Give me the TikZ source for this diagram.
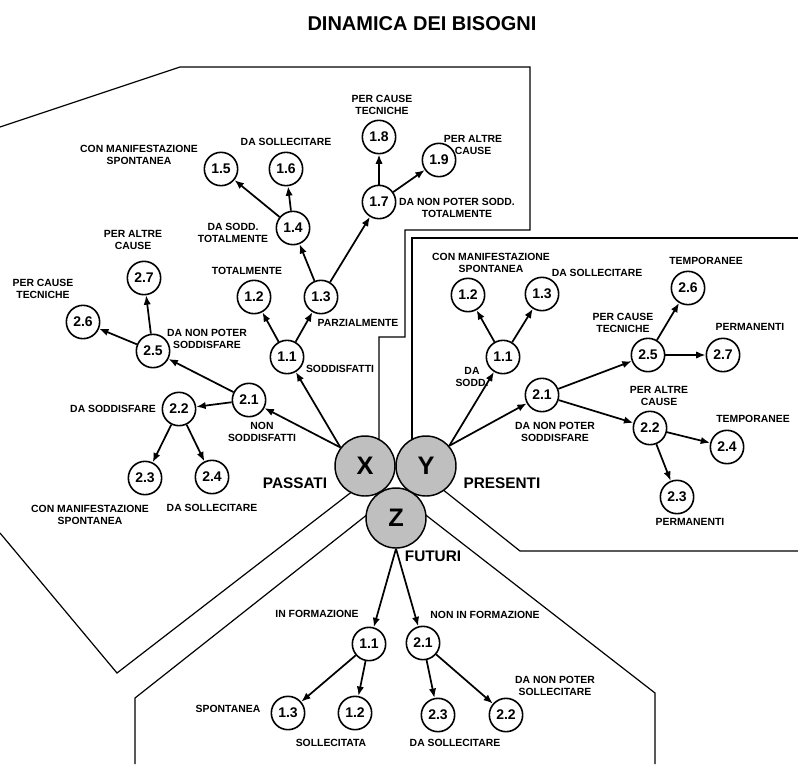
\documentclass[tikz,border=0pt]{standalone}
\usepackage{fontspec}
\setmainfont{Liberation Sans}
\usetikzlibrary{arrows.meta}

\begin{document}
\begin{tikzpicture}[x=0.75pt, y=-0.75pt,
  num/.style={draw, circle, line width=1.2pt, fill=white, minimum size=25pt, inner sep=0pt,
    font=\bfseries\fontsize{10.5}{10.5}\selectfont},
  big/.style={draw, circle, line width=1.1pt, fill=black!25, minimum size=45pt, inner sep=0pt,
    font=\bfseries\fontsize{19}{19}\selectfont},
  lab/.style={align=center, inner sep=0pt, font=\bfseries\fontsize{7.8}{9}\selectfont},
  tag/.style={inner sep=0pt, font=\bfseries\fontsize{11.5}{11.5}\selectfont},
  edge/.style={-{Latex[length=7pt,width=5.5pt]}, line width=1.3pt},
  wall/.style={line width=0.9pt}]
  \useasboundingbox (0,0) rectangle (798,764);

  \node[inner sep=0pt, font=\bfseries\fontsize{15}{15}\selectfont] (title) at (422,24) {DINAMICA DEI BISOGNI};

  % the three zones
  \draw[wall] (0,127) -- (180,67) -- (530,67) -- (530,230) -- (405,230) -- (405,337)
              -- (379,337) -- (379,455);
  \draw[wall] (358,487) -- (117,673) -- (0,533);
  \draw[wall] (798,238) -- (412,238) -- (412,455);
  \draw[wall] (432,481) -- (520,551) -- (798,551);
  \draw[wall] (373,510) -- (135,698) -- (135,764);
  \draw[wall] (418,509) -- (655,693) -- (655,764);

  \node[big] (Z) at (396,518) {Z};
  \node[big] (X) at (365,466) {X};
  \node[big] (Y) at (426,466) {Y};
  \node[tag] (passati) at (295,483) {PASSATI};
  \node[tag] (presenti) at (502,483) {PRESENTI};
  \node[tag] (futuri) at (433,556) {FUTURI};

  % passati
  \node[num] (pa11) at (287,357) {1.1};
  \node[num] (pa12) at (254,297) {1.2};
  \node[num] (pa13) at (321,297) {1.3};
  \node[num] (pa14) at (293,228) {1.4};
  \node[num] (pa15) at (221,169) {1.5};
  \node[num] (pa16) at (286,169) {1.6};
  \node[num] (pa17) at (379,202) {1.7};
  \node[num] (pa18) at (379,137) {1.8};
  \node[num] (pa19) at (439,160) {1.9};
  \node[num] (pa21) at (249,400) {2.1};
  \node[num] (pa22) at (179,409) {2.2};
  \node[num] (pa23) at (145,478) {2.3};
  \node[num] (pa24) at (212,477) {2.4};
  \node[num] (pa25) at (153,351) {2.5};
  \node[num] (pa26) at (83,322) {2.6};
  \node[num] (pa27) at (144,278) {2.7};

  \node[lab] (lpa15) at (139,155) {CON MANIFESTAZIONE\\SPONTANEA};
  \node[lab] (lpa16) at (286,142) {DA SOLLECITARE};
  \node[lab] (lpa14) at (233,233) {DA SODD.\\TOTALMENTE};
  \node[lab] (lpa12) at (247,271) {TOTALMENTE};
  \node[lab] (lpa27) at (133,240) {PER ALTRE\\CAUSE};
  \node[lab] (lpa26) at (43,289) {PER CAUSE\\TECNICHE};
  \node[lab] (lpa25) at (207,339) {DA NON POTER\\SODDISFARE};
  \node[lab] (lpa13) at (358,323) {PARZIALMENTE};
  \node[lab] (lpa18) at (382,105) {PER CAUSE\\TECNICHE};
  \node[lab] (lpa19) at (473,145) {PER ALTRE\\CAUSE};
  \node[lab] (lpa17) at (457,208) {DA NON POTER SODD.\\TOTALMENTE};
  \node[lab] (lpa11) at (340,369) {SODDISFATTI};
  \node[lab] (lpa22) at (113,409) {DA SODDISFARE};
  \node[lab] (lpa21) at (262,432) {NON\\SODDISFATTI};
  \node[lab] (lpa23) at (90,515) {CON MANIFESTAZIONE\\SPONTANEA};
  \node[lab] (lpa24) at (212,508) {DA SOLLECITARE};

  \foreach \a/\b in {X.143/pa11, X.143/pa21, pa11/pa12, pa11/pa13, pa13/pa14, pa13/pa17,
                     pa14/pa15, pa14/pa16, pa17/pa18, pa17/pa19, pa21/pa25, pa21/pa22,
                     pa25/pa26, pa25/pa27, pa22/pa23, pa22/pa24}
    \draw[edge] (\a) -- (\b);

  % presenti
  \node[num] (pr11) at (503,357) {1.1};
  \node[num] (pr12) at (468,295) {1.2};
  \node[num] (pr13) at (542,294) {1.3};
  \node[num] (pr21) at (542,395) {2.1};
  \node[num] (pr22) at (650,428) {2.2};
  \node[num] (pr23) at (677,497) {2.3};
  \node[num] (pr24) at (727,447) {2.4};
  \node[num] (pr25) at (648,355) {2.5};
  \node[num] (pr26) at (688,288) {2.6};
  \node[num] (pr27) at (723,355) {2.7};

  \node[lab] (lpr12) at (491,263) {CON MANIFESTAZIONE\\SPONTANEA};
  \node[lab] (lpr13) at (597,273) {DA SOLLECITARE};
  \node[lab] (lpr26) at (706,261) {TEMPORANEE};
  \node[lab] (lpr25) at (623,323) {PER CAUSE\\TECNICHE};
  \node[lab] (lpr27) at (750,327) {PERMANENTI};
  \node[lab] (lpr11) at (472,377) {DA\\SODD.};
  \node[lab] (lpr22) at (659,396) {PER ALTRE\\CAUSE};
  \node[lab] (lpr21) at (555,432) {DA NON POTER\\SODDISFARE};
  \node[lab] (lpr24) at (753,419) {TEMPORANEE};
  \node[lab] (lpr23) at (690,522) {PERMANENTI};

  \foreach \a/\b in {Y.41/pr11, Y.41/pr21, pr11/pr12, pr11/pr13, pr21/pr25, pr21/pr22,
                     pr25/pr26, pr25/pr27, pr22/pr24, pr22/pr23}
    \draw[edge] (\a) -- (\b);

  % futuri
  \node[num] (fu11) at (369,644) {1.1};
  \node[num] (fu12) at (355,713) {1.2};
  \node[num] (fu13) at (288,713) {1.3};
  \node[num] (fu21) at (423,643) {2.1};
  \node[num] (fu22) at (506,715) {2.2};
  \node[num] (fu23) at (438,715) {2.3};

  \node[lab] (lfu11) at (317,614) {IN FORMAZIONE};
  \node[lab] (lfu21) at (485,615) {NON IN FORMAZIONE};
  \node[lab] (lfu13) at (228,709) {SPONTANEA};
  \node[lab] (lfu12) at (331,743) {SOLLECITATA};
  \node[lab] (lfu23) at (455,743) {DA SOLLECITARE};
  \node[lab] (lfu22) at (555,686) {DA NON POTER\\SOLLECITARE};

  \foreach \a/\b in {Z.south/fu11, Z.south/fu21, fu11/fu13, fu11/fu12, fu21/fu23, fu21/fu22}
    \draw[edge] (\a) -- (\b);
\end{tikzpicture}
\end{document}
